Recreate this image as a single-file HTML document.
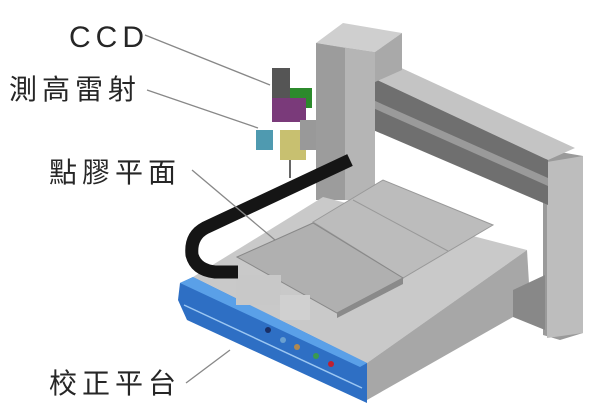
<!DOCTYPE html>
<html><head><meta charset="utf-8"><style>
html,body{margin:0;padding:0;background:#fff;}
svg{display:block}
text{font-family:"Liberation Sans","Noto Sans CJK TC",sans-serif;fill:#262626;}
</style></head><body>
<svg width="600" height="417" viewBox="0 0 600 417" xmlns="http://www.w3.org/2000/svg">
<!-- right pillar -->
<polygon points="543,160 560,152 583,156 583,333 560,340 543,335" fill="#9a9a9a"/>
<polygon points="547,162 583,156 583,333 547,338" fill="#bdbdbd"/>
<!-- beam -->
<polygon points="373,78 397,66 575,148 548,160" fill="#c4c4c4"/>
<polygon points="373,78 548,160 548,205 373,130" fill="#6f6f6f"/>
<polygon points="373,100 548,178 548,186 373,108" fill="#9a9a9a"/>
<!-- column -->
<polygon points="316,43 343,23 402,33 375,52" fill="#cfcfcf"/>
<polygon points="375,52 402,33 402,70 375,82" fill="#a9a9a9"/>
<polygon points="316,43 375,52 375,200 316,200" fill="#b5b5b5"/>
<polygon points="316,43 345,48 345,200 316,200" fill="#9c9c9c"/>
<!-- base -->
<polygon points="193,277 323,197 527,250 367,363" fill="#c9c9c9"/>
<polygon points="367,363 527,250 530,300 513,317 367,400" fill="#a7a7a7"/>
<polygon points="513,290 545,275 545,330 513,317" fill="#888"/>
<!-- blue front -->
<polygon points="180,283 193,277 367,363 367,403 187,320 178,300" fill="#2e6fc4"/>
<polygon points="180,283 193,277 367,363 360,367" fill="#5aa0e8"/>
<line x1="184" y1="305" x2="362" y2="388" stroke="#9cc7f2" stroke-width="1.5"/>
<circle cx="268" cy="330" r="3" fill="#1a2f66"/>
<circle cx="283" cy="340" r="3" fill="#6aa0d0"/>
<circle cx="297" cy="347" r="3" fill="#b08850"/>
<circle cx="316" cy="356" r="3" fill="#3a9a50"/>
<circle cx="331" cy="364" r="3" fill="#c02030"/>
<!-- plates -->
<polygon points="313,222 383,180 493,225 403,278" fill="#bcbcbc" stroke="#999" stroke-width="1"/>
<line x1="353" y1="200" x2="448" y2="251" stroke="#999"/>
<polygon points="237,257 313,223 403,278 337,313" fill="#b0b0b0" stroke="#888" stroke-width="1"/>
<polygon points="337,313 403,278 403,284 337,318" fill="#8a8a8a"/>
<!-- carriage under plate -->
<rect x="236" y="275" width="45" height="30" fill="#c8c8c8"/>
<rect x="280" y="295" width="30" height="25" fill="#d0d0d0"/>
<!-- cable chain -->
<path d="M350,160 L205,228 Q190,236 192,255 Q196,270 215,272 L238,272" fill="none" stroke="#151515" stroke-width="13"/>
<!-- head -->
<rect x="272" y="68" width="18" height="30" fill="#555"/>
<rect x="290" y="88" width="22" height="20" fill="#2c8a2c"/>
<rect x="272" y="98" width="34" height="24" fill="#7a3a7a"/>
<rect x="256" y="130" width="17" height="20" fill="#4f9ab0"/>
<rect x="280" y="130" width="26" height="30" fill="#c8c070"/>
<rect x="300" y="120" width="16" height="30" fill="#999"/>
<line x1="290" y1="160" x2="290" y2="178" stroke="#666" stroke-width="2"/>
<!-- leader lines -->
<line x1="145" y1="35" x2="270" y2="85" stroke="#888" stroke-width="1.3"/>
<line x1="147" y1="90" x2="258" y2="128" stroke="#888" stroke-width="1.3"/>
<line x1="192" y1="170" x2="275" y2="240" stroke="#888" stroke-width="1.3"/>
<line x1="186" y1="383" x2="230" y2="350" stroke="#888" stroke-width="1.3"/>
<!-- labels -->
<text x="69" y="47" font-size="30" letter-spacing="5">CCD</text>
<text x="9" y="99" font-size="28" letter-spacing="5">測高雷射</text>
<text x="49" y="182" font-size="28" letter-spacing="5">點膠平面</text>
<text x="49" y="393" font-size="28" letter-spacing="5">校正平台</text>
</svg>
</body></html>
